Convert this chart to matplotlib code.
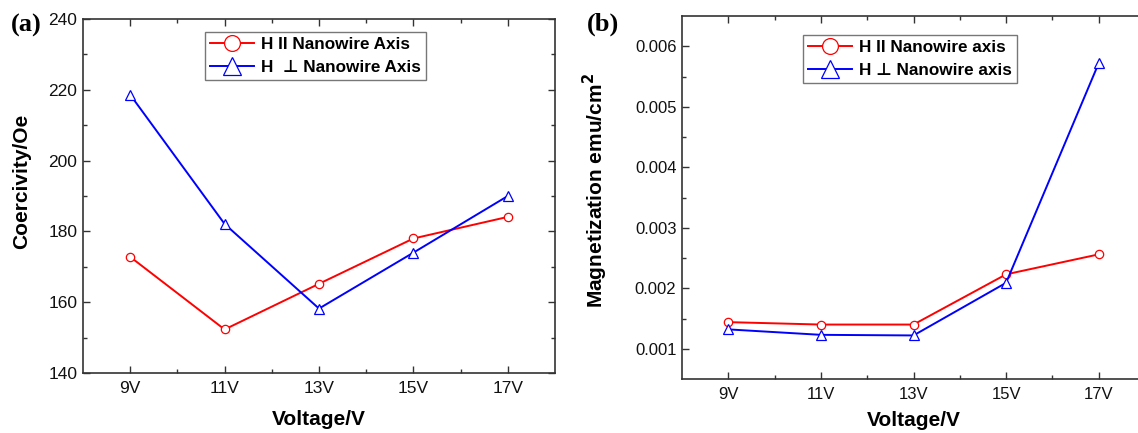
import matplotlib
matplotlib.use("Agg")
import matplotlib.pyplot as plt
from matplotlib.ticker import MultipleLocator, FixedLocator

plt.rcParams['font.family'] = ['Liberation Sans', 'DejaVu Sans']

# ---- data ----
voltages = ["9V", "11V", "13V", "15V", "17V"]
coerc_par = [172.8, 152.3, 165.2, 178.0, 184.1]
coerc_perp = [218.6, 182.1, 158.2, 174.0, 190.0]
mag_par = [0.00144, 0.00140, 0.00140, 0.00223, 0.00256]
mag_perp = [0.00132, 0.00123, 0.00122, 0.00209, 0.00572]

labels_a = ["H II Nanowire Axis", "H  \u22a5 Nanowire Axis"]
labels_b = ["H II Nanowire axis", "H \u22a5 Nanowire axis"]

W, H = 1138, 433
fig = plt.figure(figsize=(W / 100, H / 100), dpi=100)

def px_axes(l, t, r, b):
    return fig.add_axes([l / W, 1 - b / H, (r - l) / W, (b - t) / H])

spine_col = '#333333'

def style(ax, ticksize):
    for s in ax.spines.values():
        s.set_color(spine_col)
        s.set_linewidth(1.2)
    ax.tick_params(which='both', direction='in', top=True, right=True,
                   colors=spine_col, labelcolor='#111111', width=1.0)
    ax.tick_params(which='major', length=5, labelsize=ticksize)
    ax.tick_params(which='minor', length=3)
    ax.tick_params(axis='x', which='major', pad=6)
    ax.tick_params(axis='y', which='major', pad=4)

x = list(range(1, len(voltages) + 1))

# ---- panel (a) ----
ax1 = px_axes(83, 19, 555, 373)
ax1.plot(x, coerc_par, color='red', lw=1.4, marker='o', ms=6,
         mfc='white', mec='red', mew=0.9, label=labels_a[0])
ax1.plot(x, coerc_perp, color='blue', lw=1.4, marker='^', ms=6.5,
         mfc='white', mec='blue', mew=0.9, label=labels_a[1])
ax1.set_xlim(0.5, 5.5)
ax1.set_ylim(140, 240)
ax1.set_xticks(x)
ax1.set_xticklabels(voltages)
ax1.xaxis.set_minor_locator(FixedLocator([1.5, 2.5, 3.5, 4.5]))
ax1.yaxis.set_major_locator(MultipleLocator(20))
ax1.yaxis.set_minor_locator(MultipleLocator(10))
style(ax1, 12.5)
ax1.set_xlabel("Voltage/V", fontsize=15, fontweight='bold')
ax1.xaxis.set_label_coords(0.5, -0.105)
ax1.set_ylabel("Coercivity/Oe", fontsize=15, fontweight='bold')
ax1.yaxis.set_label_coords(-0.11, 0.542)
leg1 = ax1.legend(loc='upper left', bbox_to_anchor=(0.258, 0.963),
                  borderaxespad=0, fancybox=False, markerscale=1.9,
                  prop={'weight': 'bold', 'size': 12.3}, handlelength=2.6,
                  handletextpad=0.4, borderpad=0.3, labelspacing=0.45)
leg1.get_frame().set_edgecolor('#555555')
leg1.get_frame().set_linewidth(1.0)
fig.text(11 / W, 1 - 25 / H, "(a)", fontsize=19, fontweight='bold',
         family='Liberation Serif', va='center', ha='left')

# ---- panel (b) ----
ax2 = px_axes(682, 16, 1145, 379)
ax2.plot(x, mag_par, color='red', lw=1.4, marker='o', ms=6,
         mfc='white', mec='red', mew=0.9, label=labels_b[0])
ax2.plot(x, mag_perp, color='blue', lw=1.4, marker='^', ms=6.5,
         mfc='white', mec='blue', mew=0.9, label=labels_b[1])
ax2.set_xlim(0.5, 5.5)
ax2.set_ylim(0.0005, 0.0065)
ax2.set_xticks(x)
ax2.set_xticklabels(voltages)
ax2.xaxis.set_minor_locator(FixedLocator([1.5, 2.5, 3.5, 4.5]))
ax2.yaxis.set_major_locator(FixedLocator([0.001, 0.002, 0.003, 0.004, 0.005, 0.006]))
ax2.yaxis.set_minor_locator(FixedLocator([0.0015, 0.0025, 0.0035, 0.0045, 0.0055]))
ax2.set_yticklabels(["0.001", "0.002", "0.003", "0.004", "0.005", "0.006"])
style(ax2, 12)
ax2.set_xlabel("Voltage/V", fontsize=15, fontweight='bold')
ax2.xaxis.set_label_coords(0.5, -0.088)
ax2.set_ylabel("Magnetization emu/cm$^\\mathbf{2}$", fontsize=15, fontweight='bold')
ax2.yaxis.set_label_coords(-0.155, 0.518)
leg2 = ax2.legend(loc='upper left', bbox_to_anchor=(0.261, 0.948),
                  borderaxespad=0, fancybox=False, markerscale=1.9,
                  prop={'weight': 'bold', 'size': 12.3}, handlelength=2.6,
                  handletextpad=0.4, borderpad=0.3, labelspacing=0.45)
leg2.get_frame().set_edgecolor('#555555')
leg2.get_frame().set_linewidth(1.0)
fig.text(587 / W, 1 - 24 / H, "(b)", fontsize=19, fontweight='bold',
         family='Liberation Serif', va='center', ha='left')

fig.savefig("out.png", dpi=100)
